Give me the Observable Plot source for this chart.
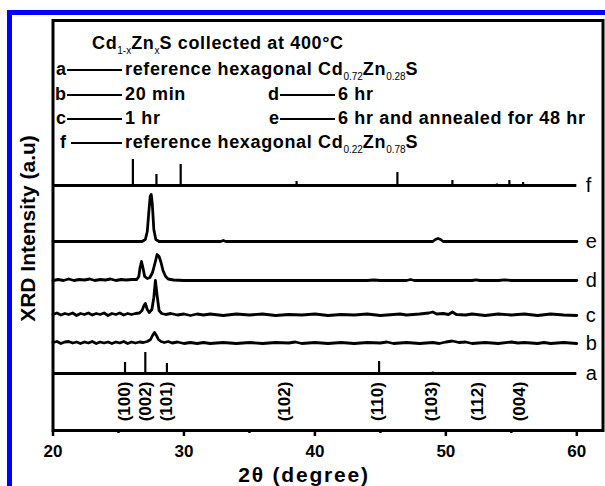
<!DOCTYPE html>
<html><head><meta charset="utf-8">
<script src="https://cdn.jsdelivr.net/npm/d3@7"></script>
<script src="https://cdn.jsdelivr.net/npm/@observablehq/plot@0.6"></script>
<style>
html,body{margin:0;padding:0;background:#fff;overflow:hidden;}
#wrap{position:relative;width:605px;height:486px;font-family:"Liberation Sans",Arial,sans-serif;}
#wrap svg{position:absolute;left:0;top:0;}
#blue{position:absolute;left:7px;top:10px;width:700px;height:600px;border-left:5px solid #0000ff;border-top:5px solid #0000ff;pointer-events:none;}
.lg{position:absolute;font-size:18px;font-weight:bold;letter-spacing:0.65px;line-height:20px;white-space:nowrap;color:#000;}
.lg sub{font-size:10px;font-weight:normal;letter-spacing:0;vertical-align:-5px;line-height:0;}
.key{text-align:right;width:16px;letter-spacing:0;}
.dash{position:absolute;height:0;border-top:2px solid #000;}
</style></head><body><div id="wrap"></div>
<script>
// ---- data ----
const seriesNames = ["a", "b", "c", "d", "e", "f"];
const seriesOffsets = [57, 87, 115, 150, 189, 245];
const xStart = 20, xEnd = 60;
const majorTicks = [20, 30, 40, 50, 60];
const minorTicks = [25, 35, 45, 55];

// reference stick patterns (2θ, height)
const refA = [[25.5, 11], [27.05, 21], [28.7, 10], [44.9, 12], [49.0, 1.5]];
const refF = [[26.1, 26], [27.9, 11], [29.75, 21], [38.6, 4], [46.3, 13], [50.5, 5], [53.9, 1.5], [54.85, 5], [55.9, 3]];

// measured patterns (2θ, intensity above own baseline)
const patB = [[20,1],[20.3,2],[20.6,0],[20.9,1.5],[21.2,2],[21.5,0.5],[21.8,1.5],[22.1,0],[22.4,1.5],[22.7,0.5],[23,2],[23.3,0],[23.6,1.5],[23.9,0.5],[24.2,1.5],[24.5,0],[24.8,1.5],[25.1,0.5],[25.4,2],[25.7,0],[26,1.5],[26.3,0.5],[26.6,1.5],[26.9,1],[27.2,2],[27.45,4],[27.6,8],[27.75,11],[27.9,8],[28.05,4],[28.25,2],[28.5,1],[28.8,2],[29.1,0.5],[29.5,1.5],[30,0],[30.5,1],[31,0],[31.5,1],[32,0],[33,1],[34,0],[35,1],[36,0],[37,1],[38,0.5],[38.5,1.5],[39,0],[40,1],[41,0],[42,1],[43,0],[44,1],[45,0.5],[45.5,1.5],[46,0],[47,1],[48,0],[49,1],[49.5,0],[50,1.5],[50.5,2.5],[51,1],[51.5,1.5],[52,0],[53,1],[54,0],[55,1.5],[55.5,0.5],[56,1],[57,0],[57.5,1],[58,0],[59,1],[60,0]];
const patC = [[20,1],[20.3,2.5],[20.6,0.5],[20.9,2],[21.2,1],[21.5,2.5],[21.8,0],[22.1,2],[22.4,1],[22.7,2.5],[23,0.5],[23.3,2],[23.6,1],[23.9,2.5],[24.2,0],[24.5,2],[24.8,1],[25.1,2.5],[25.4,0.5],[25.7,2],[26,1],[26.3,2],[26.6,2.5],[26.8,5],[26.95,10],[27.05,12],[27.2,6],[27.35,3],[27.55,6],[27.7,18],[27.82,35],[27.95,20],[28.1,5],[28.3,2],[28.6,1],[29,2],[29.5,0.5],[30,1.5],[30.5,0],[31,1.5],[31.5,0.5],[32,1.5],[33,0],[34,1.5],[35,0.5],[36,1.5],[37,0],[38,1],[39,0.5],[40,1.5],[41,0],[42,1],[43,0.5],[44,1.5],[45,0],[46,1],[46.5,1.5],[47,0.5],[48,1.5],[48.7,2.5],[49,3.5],[49.3,1.5],[49.8,2],[50.2,1],[50.5,3.5],[50.8,1],[51.5,0.5],[52,1.5],[53,0],[54,1.5],[55,0.5],[56,1.5],[57,0],[58,1.5],[59,0.5],[60,0]];
const patD = [[20,0],[20.4,1],[20.8,0],[21.2,1.5],[21.6,0],[22,1],[22.4,0.5],[22.8,1.5],[23.2,0],[23.6,1],[24,0.5],[24.4,1.5],[24.8,0],[25.2,1],[25.6,0.5],[26,1],[26.4,1],[26.55,4],[26.65,13],[26.76,19],[26.88,12],[27.0,4],[27.2,2],[27.4,3],[27.6,8],[27.8,18],[27.95,26],[28.1,24],[28.25,18],[28.4,10],[28.6,4],[28.8,1.5],[29.2,0.5],[30,0],[35,0],[40,0],[44,0],[44.5,0.5],[45,0],[47,0],[47.3,1],[47.6,0],[50,0],[52,0],[52.3,0.7],[52.6,0],[54,0],[54.5,0.6],[55,0],[60,0]];
const patE = [[20,0],[26.8,0],[27.05,2],[27.2,10],[27.32,30],[27.42,45],[27.5,47],[27.58,38],[27.7,12],[27.85,2],[28.1,0],[32.8,0],[33,1],[33.2,0],[49,0],[49.2,2],[49.4,3],[49.6,2],[49.8,0],[60,0]];

const hklLabels = ["(100)", "(002)", "(101)", "(102)", "(110)", "(103)", "(112)", "(004)"];
const hklPos = [25.5, 27.05, 28.7, 37.7, 44.8, 48.9, 52.4, 55.6];
const hklLevel = 29;

const xLabel = "2θ (degree)";
const yLabel = "XRD Intensity (a.u)";

// ---- build ----
const off = Object.fromEntries(seriesNames.map((n, i) => [n, seriesOffsets[i]]));
const sticks = (arr, o) => arr.map(([x, h]) => ({x, y1: o, y2: o + h}));
const pts = (arr, o, s) => arr.map(([x, v]) => ({x, y: v + o, s}));
const traces = [...pts(patB, off.b, "b"), ...pts(patC, off.c, "c"), ...pts(patD, off.d, "d"), ...pts(patE, off.e, "e")];

const plot = Plot.plot({
  width: 605, height: 486,
  marginLeft: 52.5, marginRight: 2.5, marginTop: 20, marginBottom: 56,
  style: {background: "transparent", fontFamily: "Liberation Sans, Arial, sans-serif", color: "black", overflow: "visible"},
  x: {domain: [20, 62]},
  y: {domain: [0, 410], axis: null},
  marks: [
    Plot.ruleY([off.a, off.f], {x1: () => xStart, x2: () => xEnd, y: d => d, strokeWidth: 2.8}),
    Plot.ruleX(sticks(refA, off.a), {x: "x", y1: "y1", y2: "y2", strokeWidth: 2.2}),
    Plot.ruleX(sticks(refF, off.f), {x: "x", y1: "y1", y2: "y2", strokeWidth: 2.2}),
    Plot.line(traces, {x: "x", y: "y", z: "s", stroke: "black", strokeWidth: 2.8, curve: "linear", strokeLinejoin: "round"}),
    Plot.text(seriesNames, {x: () => xEnd, y: (d, i) => seriesOffsets[i], text: d => d, dx: 9, textAnchor: "start", fontSize: 20}),
    Plot.text(hklLabels, {x: (d, i) => hklPos[i], y: () => hklLevel, text: d => d, rotate: -90, fontSize: 17, fontWeight: "bold"}),
    Plot.frame({stroke: "black", strokeWidth: 3}),
    Plot.axisX({ticks: majorTicks, tickSize: 6, strokeWidth: 2.5, tickPadding: 8, fontSize: 17, fontWeight: "bold", label: null, tickFormat: d => String(d)}),
    Plot.axisX({ticks: minorTicks, tickSize: 3, strokeWidth: 2.5, text: null, label: null}),
    Plot.text([xLabel], {frameAnchor: "bottom", text: d => d, dy: 51, dx: -24, fontSize: 21, fontWeight: "bold", lineAnchor: "bottom", textAnchor: "middle"}),
    Plot.text([yLabel], {frameAnchor: "left", text: d => d, dx: -25, dy: 3, rotate: -90, fontSize: 21, fontWeight: "bold", textAnchor: "middle", lineAnchor: "middle"})
  ]
});
const wrap = document.getElementById("wrap");
wrap.appendChild(plot);
// letter spacing for the x-axis title
plot.querySelectorAll("text").forEach(t => {
  if (t.textContent === xLabel) t.style.letterSpacing = "1.8px";
});

// ---- legend (HTML overlay) ----
const legendTitle = 'Cd<sub>1-x</sub>Zn<sub>x</sub>S collected at 400°C';
const legendKeys = ["a", "b", "c", "d", "e", "f"];
const legendTexts = [
  'reference hexagonal Cd<sub>0.72</sub>Zn<sub>0.28</sub>S',
  '20 min', '1 hr', '6 hr', '6 hr and annealed for 48 hr',
  'reference hexagonal Cd<sub>0.22</sub>Zn<sub>0.78</sub>S'
];
const legendRow = [1, 2, 3, 2, 3, 4];
const legendCol = [0, 0, 0, 1, 1, 0];
const rowY = [43, 69, 94, 118, 142];
const colLine = [67, 280];

function add(html, cls, css) {
  const el = document.createElement("div");
  el.className = cls; el.innerHTML = html;
  Object.assign(el.style, css);
  wrap.appendChild(el);
  return el;
}
add(legendTitle, "lg", {left: "92px", top: (rowY[0] - 10) + "px"});
legendKeys.forEach((k, i) => {
  const ls = colLine[legendCol[i]], y0 = rowY[legendRow[i]];
  const shift = k === "f" ? 4 : 0;
  add(k, "lg key", {left: (ls - 17) + "px", top: (y0 - 10) + "px"});
  add("", "dash", {left: (ls + shift) + "px", width: (55 - shift) + "px", top: (y0) + "px"});
  add(legendTexts[i], "lg", {left: (ls + 58) + "px", top: (y0 - 10) + "px"});
});
add("", "", {}).id = "blue";
</script></body></html>
